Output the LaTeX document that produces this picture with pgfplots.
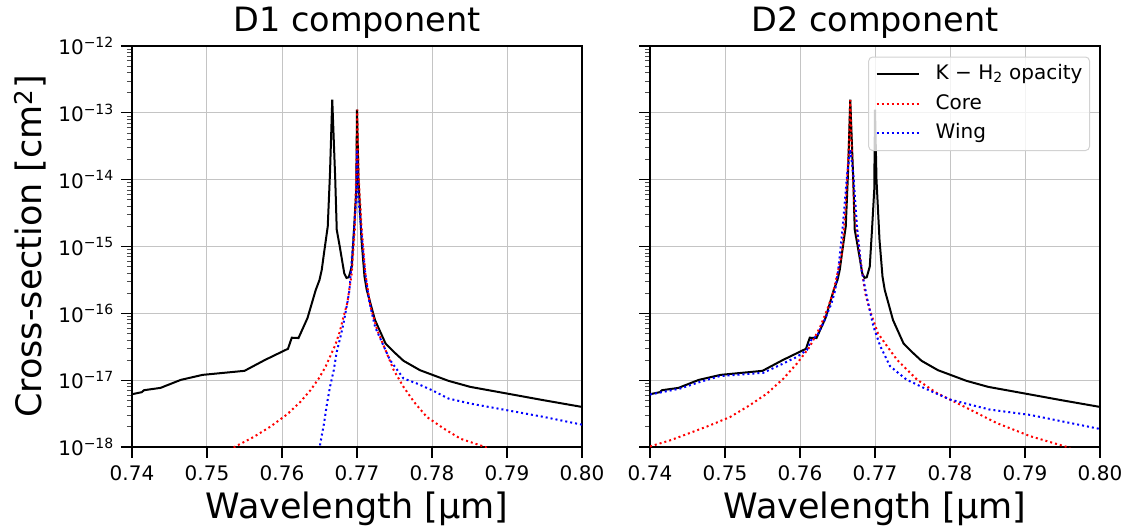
\documentclass[border=0pt]{standalone}
\usepackage{fontspec}
\setmainfont{DejaVu Sans}
\usepackage{pgfplots}
\pgfplotsset{compat=1.18}

\definecolor{gridgray}{RGB}{196,196,196}
\definecolor{legframe}{RGB}{210,210,210}

\pgfplotsset{
  kpanel/.style={
    scale only axis, width=450pt, height=401pt,
    xmin=0.74, xmax=0.80,
    ymin=1e-18, ymax=1e-12,
    xtick={0.74,0.75,0.76,0.77,0.78,0.79,0.80},
    xticklabels={0.74,0.75,0.76,0.77,0.78,0.79,0.80},
    ytick={1e-18,1e-17,1e-16,1e-15,1e-14,1e-13,1e-12},
    minor ytick={2e-18,3e-18,4e-18,5e-18,6e-18,7e-18,8e-18,9e-18,
                 2e-17,3e-17,4e-17,5e-17,6e-17,7e-17,8e-17,9e-17,
                 2e-16,3e-16,4e-16,5e-16,6e-16,7e-16,8e-16,9e-16,
                 2e-15,3e-15,4e-15,5e-15,6e-15,7e-15,8e-15,9e-15,
                 2e-14,3e-14,4e-14,5e-14,6e-14,7e-14,8e-14,9e-14,
                 2e-13,3e-13,4e-13,5e-13,6e-13,7e-13,8e-13,9e-13},
    tick pos=left, tick align=outside,
    major tick length=11pt, minor tick length=5pt,
    major tick style={black, line width=1.1pt},
    minor tick style={black!70, line width=0.8pt},
    axis line style={line width=1.1pt},
    grid=major, major grid style={gridgray, line width=1pt},
    xticklabel style={font=\fontsize{20}{20}\selectfont, anchor=north, inner sep=0pt, yshift=-7pt},
    yticklabel style={font=\fontsize{20}{20}\selectfont, anchor=east, inner sep=0pt, xshift=-7pt},
    xlabel={Wavelength [μm]},
    xlabel style={font=\fontsize{35}{35}\selectfont, at={([yshift=-71pt]axis description cs:0.5,0)}, anchor=base},
    title style={font=\fontsize{33.5}{33.5}\selectfont, at={([yshift=9pt]axis description cs:0.5,1)}, anchor=base},
    clip=true,
  },
  blk/.style={black, line width=2pt},
  cor/.style={red, line width=2pt, dash pattern=on 2pt off 3pt},
  wng/.style={blue, line width=2pt, dash pattern=on 2pt off 3pt},
}

\begin{document}
\begin{tikzpicture}
\useasboundingbox (-132pt,-80pt) rectangle (996pt,447pt);

% ---------- D1 panel ----------
\begin{axis}[ymode=log, kpanel, at={(0pt,0pt)}, anchor=south west,
  title={D1 component},
  yticklabels={10\textsuperscript{−18},10\textsuperscript{−17},10\textsuperscript{−16},10\textsuperscript{−15},10\textsuperscript{−14},10\textsuperscript{−13},10\textsuperscript{−12}},
  ylabel={Cross-section [cm\textsuperscript{2}]},
  ylabel style={font=\fontsize{35}{35}\selectfont, at={([xshift=-90pt]axis description cs:0,0.5)}, anchor=base},
]
\addplot[blk] coordinates {
(0.7400,6.17e-18) (0.7413,6.61e-18) (0.7416,7.08e-18) (0.7438,7.67e-18)
(0.7465,1.01e-17) (0.7494,1.20e-17) (0.7550,1.38e-17) (0.7577,2.00e-17)
(0.7608,2.95e-17) (0.7613,4.32e-17) (0.7622,4.27e-17) (0.7634,8.51e-17)
(0.7645,2.24e-16) (0.7650,3.16e-16) (0.7653,4.47e-16) (0.7656,7.94e-16)
(0.7661,2.00e-15) (0.7664,1.26e-14) (0.7667,1.58e-13) (0.7671,1.00e-14)
(0.7673,1.78e-15) (0.7677,1.00e-15) (0.7683,3.98e-16) (0.7686,3.39e-16)
(0.7689,3.47e-16) (0.7693,5.01e-16) (0.7696,1.78e-15) (0.7699,7.08e-15)
(0.7700,1.12e-13) (0.7702,1.00e-14) (0.7706,1.26e-15) (0.7710,3.55e-16)
(0.7713,2.24e-16) (0.7724,7.94e-17) (0.7738,3.55e-17) (0.7749,2.66e-17)
(0.7762,1.95e-17) (0.7784,1.41e-17) (0.7822,9.77e-18) (0.7851,7.94e-18)
(0.7900,6.31e-18) (0.7949,5.01e-18) (0.8000,3.98e-18)};
\addplot[cor] coordinates {
(0.7530,8.91e-19) (0.7538,1.02e-18) (0.7562,1.41e-18) (0.7584,2.00e-18)
(0.7607,3.09e-18) (0.7624,4.68e-18) (0.7638,7.08e-18) (0.7649,1.06e-17)
(0.7658,1.58e-17) (0.7664,2.24e-17) (0.7671,3.35e-17) (0.7677,5.31e-17)
(0.7682,8.91e-17) (0.7687,1.41e-16) (0.7693,3.98e-16) (0.7697,1.78e-15)
(0.7699,1.26e-14) (0.77004,1.12e-13) (0.7702,1.26e-14) (0.7706,2.00e-15)
(0.7711,3.98e-16) (0.7718,1.26e-16) (0.7727,5.62e-17) (0.7738,2.82e-17)
(0.7749,1.41e-17) (0.7762,7.94e-18) (0.7776,4.73e-18) (0.7793,2.82e-18)
(0.7816,1.88e-18) (0.7838,1.33e-18) (0.7871,1.00e-18) (0.7880,8.91e-19)};
\addplot[wng] coordinates {
(0.7650,8.91e-19) (0.7651,1.12e-18) (0.7656,2.24e-18) (0.7660,4.47e-18)
(0.7664,7.94e-18) (0.7669,1.41e-17) (0.7673,2.66e-17) (0.7678,4.47e-17)
(0.7682,7.08e-17) (0.7687,1.41e-16) (0.7690,2.24e-16) (0.7695,1.26e-15)
(0.7699,5.01e-15) (0.7700,2.82e-14) (0.7702,5.01e-15) (0.7706,1.58e-15)
(0.7711,3.98e-16) (0.7716,1.58e-16) (0.7724,6.31e-17) (0.7736,3.16e-17)
(0.7744,2.00e-17) (0.7762,1.06e-17) (0.7780,8.91e-18) (0.7800,7.08e-18)
(0.7822,5.31e-18) (0.7851,4.47e-18) (0.7900,3.55e-18) (0.7949,2.82e-18)
(0.8000,2.16e-18)};
\end{axis}

% ---------- D2 panel ----------
\begin{axis}[ymode=log, kpanel, at={(518pt,0pt)}, anchor=south west,
  title={D2 component},
  yticklabels={},
  legend cell align=left,
  legend image code/.code={\draw[#1] (0pt,0pt) -- (42pt,0pt);},
  legend style={at={(1,1)}, anchor=north east, xshift=-10pt, yshift=-10.5pt,
    draw=legframe, line width=1pt, rounded corners=4pt,
    fill=white, fill opacity=0.8, text opacity=1,
    font=\fontsize{20}{20}\selectfont,
    inner xsep=7pt, inner ysep=7.5pt, row sep=10pt,
    nodes={inner sep=0pt, text height=15pt, text depth=4.5pt},
    /tikz/every odd column/.append style={column sep=16pt}},
]
\addplot[blk] coordinates {
(0.7400,6.17e-18) (0.7413,6.61e-18) (0.7416,7.08e-18) (0.7438,7.67e-18)
(0.7465,1.01e-17) (0.7494,1.20e-17) (0.7550,1.38e-17) (0.7577,2.00e-17)
(0.7608,2.95e-17) (0.7613,4.32e-17) (0.7622,4.27e-17) (0.7634,8.51e-17)
(0.7645,2.24e-16) (0.7650,3.16e-16) (0.7653,4.47e-16) (0.7656,7.94e-16)
(0.7661,2.00e-15) (0.7664,1.26e-14) (0.7667,1.58e-13) (0.7671,1.00e-14)
(0.7673,1.78e-15) (0.7677,1.00e-15) (0.7683,3.98e-16) (0.7686,3.39e-16)
(0.7689,3.47e-16) (0.7693,5.01e-16) (0.7696,1.78e-15) (0.7699,7.08e-15)
(0.7700,1.12e-13) (0.7702,1.00e-14) (0.7706,1.26e-15) (0.7710,3.55e-16)
(0.7713,2.24e-16) (0.7724,7.94e-17) (0.7738,3.55e-17) (0.7749,2.66e-17)
(0.7762,1.95e-17) (0.7784,1.41e-17) (0.7822,9.77e-18) (0.7851,7.94e-18)
(0.7900,6.31e-18) (0.7949,5.01e-18) (0.8000,3.98e-18)};
\addlegendentry{K − H\textsubscript{2} opacity}
\addplot[cor] coordinates {
(0.7400,1.02e-18) (0.7427,1.26e-18) (0.7453,1.62e-18) (0.7480,2.11e-18)
(0.7507,2.82e-18) (0.7533,4.22e-18) (0.7556,6.31e-18) (0.7578,1.06e-17)
(0.7596,1.78e-17) (0.7613,3.16e-17) (0.7627,6.31e-17) (0.7636,1.12e-16)
(0.7644,2.00e-16) (0.7651,4.47e-16) (0.7656,7.94e-16) (0.7661,3.98e-15)
(0.7665,2.82e-14) (0.7667,1.55e-13) (0.7669,2.82e-14) (0.7673,3.16e-15)
(0.7680,7.08e-16) (0.7687,2.00e-16) (0.7693,1.12e-16) (0.7704,5.01e-17)
(0.7716,3.24e-17) (0.7729,2.04e-17) (0.7756,1.02e-17) (0.7782,6.46e-18)
(0.7818,4.07e-18) (0.7862,2.29e-18) (0.7907,1.45e-18) (0.7956,1.00e-18)
(0.7965,8.91e-19)};
\addlegendentry{Core}
\addplot[wng] coordinates {
(0.7400,6.10e-18) (0.7440,7.50e-18) (0.7467,9.44e-18) (0.7493,1.15e-17)
(0.7551,1.29e-17) (0.7578,1.78e-17) (0.7596,2.24e-17) (0.7609,2.82e-17)
(0.7616,4.22e-17) (0.7622,4.47e-17) (0.7631,7.08e-17) (0.7642,1.41e-16)
(0.7647,2.24e-16) (0.7651,4.47e-16) (0.7657,2.00e-15) (0.7663,1.26e-14)
(0.7667,2.82e-14) (0.7671,1.26e-14) (0.7676,2.00e-15) (0.7682,4.47e-16)
(0.7690,1.58e-16) (0.7698,6.31e-17) (0.7707,3.24e-17) (0.7720,1.62e-17)
(0.7742,1.02e-17) (0.7764,7.76e-18) (0.7800,5.13e-18) (0.7853,3.63e-18)
(0.7907,3.02e-18) (0.7951,2.40e-18) (0.8000,1.86e-18)};
\addlegendentry{Wing}
\end{axis}
\end{tikzpicture}
\end{document}
